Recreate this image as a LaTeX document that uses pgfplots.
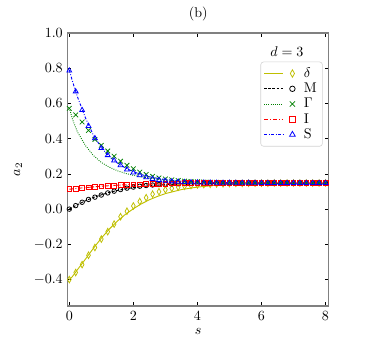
\documentclass[border=0pt]{standalone}
\usepackage{pgfplots}
\pgfplotsset{compat=1.18}
\usepackage{pgfplotstable}

\definecolor{cy}{rgb}{0.75,0.75,0}
\definecolor{cg}{rgb}{0,0.5,0}

% markers (data): s, delta, M, Gamma, I, S
\pgfplotstableread{
s   d      m     g     i     sv
0.0 -0.400 0.000 0.572 0.113 0.786
0.2 -0.360 0.020 0.535 0.117 0.668
0.4 -0.315 0.039 0.495 0.120 0.562
0.6 -0.262 0.055 0.447 0.123 0.472
0.8 -0.218 0.068 0.396 0.126 0.402
1.0 -0.170 0.080 0.362 0.129 0.346
1.2 -0.128 0.092 0.330 0.132 0.306
1.4 -0.085 0.102 0.300 0.134 0.276
1.6 -0.043 0.111 0.272 0.136 0.249
1.8 -0.012 0.119 0.249 0.138 0.225
2.0 0.018  0.125 0.229 0.140 0.207
2.2 0.043  0.130 0.210 0.141 0.192
2.4 0.065  0.134 0.197 0.142 0.180
2.6 0.085  0.137 0.186 0.143 0.171
2.8 0.099  0.140 0.177 0.144 0.165
3.0 0.110  0.142 0.171 0.145 0.160
3.2 0.118  0.143 0.166 0.146 0.157
3.4 0.125  0.144 0.162 0.146 0.155
3.6 0.130  0.145 0.159 0.147 0.153
3.8 0.134  0.146 0.157 0.147 0.152
4.0 0.137  0.146 0.155 0.147 0.151
4.2 0.139  0.147 0.154 0.147 0.150
4.4 0.141  0.147 0.153 0.148 0.150
4.6 0.143  0.147 0.152 0.148 0.149
4.8 0.144  0.147 0.151 0.148 0.149
5.0 0.145  0.148 0.151 0.148 0.149
5.2 0.146  0.148 0.150 0.148 0.149
5.4 0.146  0.148 0.150 0.148 0.149
5.6 0.147  0.148 0.150 0.148 0.149
5.8 0.147  0.148 0.149 0.148 0.149
6.0 0.147  0.148 0.149 0.148 0.148
6.2 0.147  0.148 0.149 0.148 0.148
6.4 0.148  0.148 0.149 0.148 0.148
6.6 0.148  0.148 0.149 0.148 0.148
6.8 0.148  0.148 0.148 0.148 0.148
7.0 0.148  0.148 0.148 0.148 0.148
7.2 0.148  0.148 0.148 0.148 0.148
7.4 0.148  0.148 0.148 0.148 0.148
7.6 0.148  0.148 0.148 0.148 0.148
7.8 0.148  0.148 0.148 0.148 0.148
8.0 0.148  0.148 0.148 0.148 0.148
}\marks

% fitted curves
\pgfplotstableread{
s    d      m     g     i     sv
0.00 -0.400 0.000 0.575 0.113 0.790
0.10 -0.382 0.010 0.510 0.115 0.725
0.25 -0.345 0.025 0.440 0.118 0.640
0.50 -0.285 0.047 0.362 0.122 0.520
0.75 -0.223 0.066 0.305 0.126 0.420
1.00 -0.165 0.081 0.265 0.130 0.350
1.25 -0.113 0.095 0.238 0.133 0.298
1.50 -0.068 0.106 0.218 0.136 0.262
1.75 -0.030 0.115 0.203 0.138 0.234
2.00 0.002  0.122 0.192 0.140 0.212
2.25 0.030  0.128 0.183 0.141 0.196
2.50 0.053  0.133 0.176 0.142 0.184
2.75 0.072  0.136 0.170 0.143 0.175
3.00 0.088  0.139 0.166 0.144 0.168
3.50 0.111  0.143 0.159 0.146 0.159
4.00 0.125  0.145 0.155 0.147 0.154
4.50 0.134  0.146 0.152 0.147 0.151
5.00 0.140  0.147 0.150 0.148 0.150
5.50 0.143  0.148 0.149 0.148 0.149
6.00 0.145  0.148 0.149 0.148 0.149
7.00 0.147  0.148 0.148 0.148 0.148
8.10 0.148  0.148 0.148 0.148 0.148
}\fits

\pgfplotsset{
  lgimg/.style 2 args={legend image code/.code={
      \draw[#1] (0cm,0cm) -- (0.485cm,0cm);
      \draw[#2] plot[only marks] coordinates {(0.71cm,0cm)};
      \path (0.92cm,0cm);}},
}

\begin{document}
\begin{tikzpicture}
\useasboundingbox (-1.6925cm,-0.85cm) rectangle (7.6575cm,7.65cm);
\begin{axis}[
    scale only axis,
    width=6.525cm, height=6.825cm,
    xmin=-0.05, xmax=8.1, ymin=-0.55, ymax=1.0,
    xtick={0,2,4,6,8},
    ytick={-0.4,-0.2,0,0.2,0.4,0.6,0.8,1.0},
    yticklabel style={/pgf/number format/.cd, fixed, fixed zerofill, precision=1},
    tick align=inside, major tick length=2.5pt,
    axis line style={gray, line width=0.75pt},
    tick style={black, line width=0.4pt},
    title={(b)},
    title style={at={(axis description cs:0.5,1.037)}, anchor=center, yshift=0pt},
    xlabel={$s$},
    xlabel style={at={(axis description cs:0.5,-0.093)}, anchor=center},
    ylabel={$a_2$},
    ylabel style={at={(axis description cs:-0.19,0.5)}, anchor=center},
    legend cell align=left,
    legend style={at={(axis description cs:0.977,0.895)}, anchor=north east,
        draw=gray!35, rounded corners=2pt, row sep=-1.5pt, inner sep=2pt},
]
% curves
\addplot[forget plot, cy, line width=0.65pt] table[x=s, y=d] {\fits};
\addplot[forget plot, black, line width=0.65pt, dash pattern=on 2pt off 1pt] table[x=s, y=m] {\fits};
\addplot[forget plot, cg, line width=0.65pt, dash pattern=on 0.6pt off 0.95pt] table[x=s, y=g] {\fits};
\addplot[forget plot, red, line width=0.65pt, dash pattern=on 3.1pt off 1.2pt on 0.8pt off 1.2pt] table[x=s, y=i] {\fits};
\addplot[forget plot, blue, line width=0.65pt, dash pattern=on 2pt off 1.2pt on 0.6pt off 1.2pt] table[x=s, y=sv] {\fits};

% data points
\addplot[only marks, cy, mark=diamond, mark size=2.35pt,
    mark options={xscale=0.75, line width=0.55pt, fill=none},
    lgimg={cy, line width=0.65pt}{cy, line width=0.55pt, mark=diamond, mark size=2.65pt, mark options={xscale=0.75}}]
    table[x=s, y=d] {\marks};
\addlegendentry{$\delta$}
\addplot[only marks, black, mark=o, mark size=1.6pt,
    mark options={line width=0.55pt, fill=none},
    lgimg={black, line width=0.65pt, dash pattern=on 2pt off 1pt}{black, line width=0.55pt, mark=o, mark size=1.95pt}]
    table[x=s, y=m] {\marks};
\addlegendentry{M}
\addplot[only marks, cg, mark=x, mark size=2.35pt,
    mark options={line width=0.55pt},
    lgimg={cg, line width=0.65pt, dash pattern=on 0.6pt off 0.95pt}{cg, line width=0.55pt, mark=x, mark size=2.65pt}]
    table[x=s, y=g] {\marks};
\addlegendentry{$\Gamma$}
\addplot[only marks, red, mark=square, mark size=1.7pt,
    mark options={line width=0.55pt, fill=none},
    lgimg={red, line width=0.65pt, dash pattern=on 3.1pt off 1.2pt on 0.8pt off 1.2pt}{red, line width=0.55pt, mark=square, mark size=2.1pt}]
    table[x=s, y=i] {\marks};
\addlegendentry{I}
\addplot[only marks, blue, mark=triangle, mark size=2pt,
    mark options={line width=0.55pt, fill=none},
    lgimg={blue, line width=0.65pt, dash pattern=on 2pt off 1.2pt on 0.6pt off 1.2pt}{blue, line width=0.55pt, mark=triangle, mark size=2.35pt}]
    table[x=s, y=sv] {\marks};
\addlegendentry{S}

\node at (axis description cs:0.840,0.930) {$d=3$};
\end{axis}
\end{tikzpicture}
\end{document}
